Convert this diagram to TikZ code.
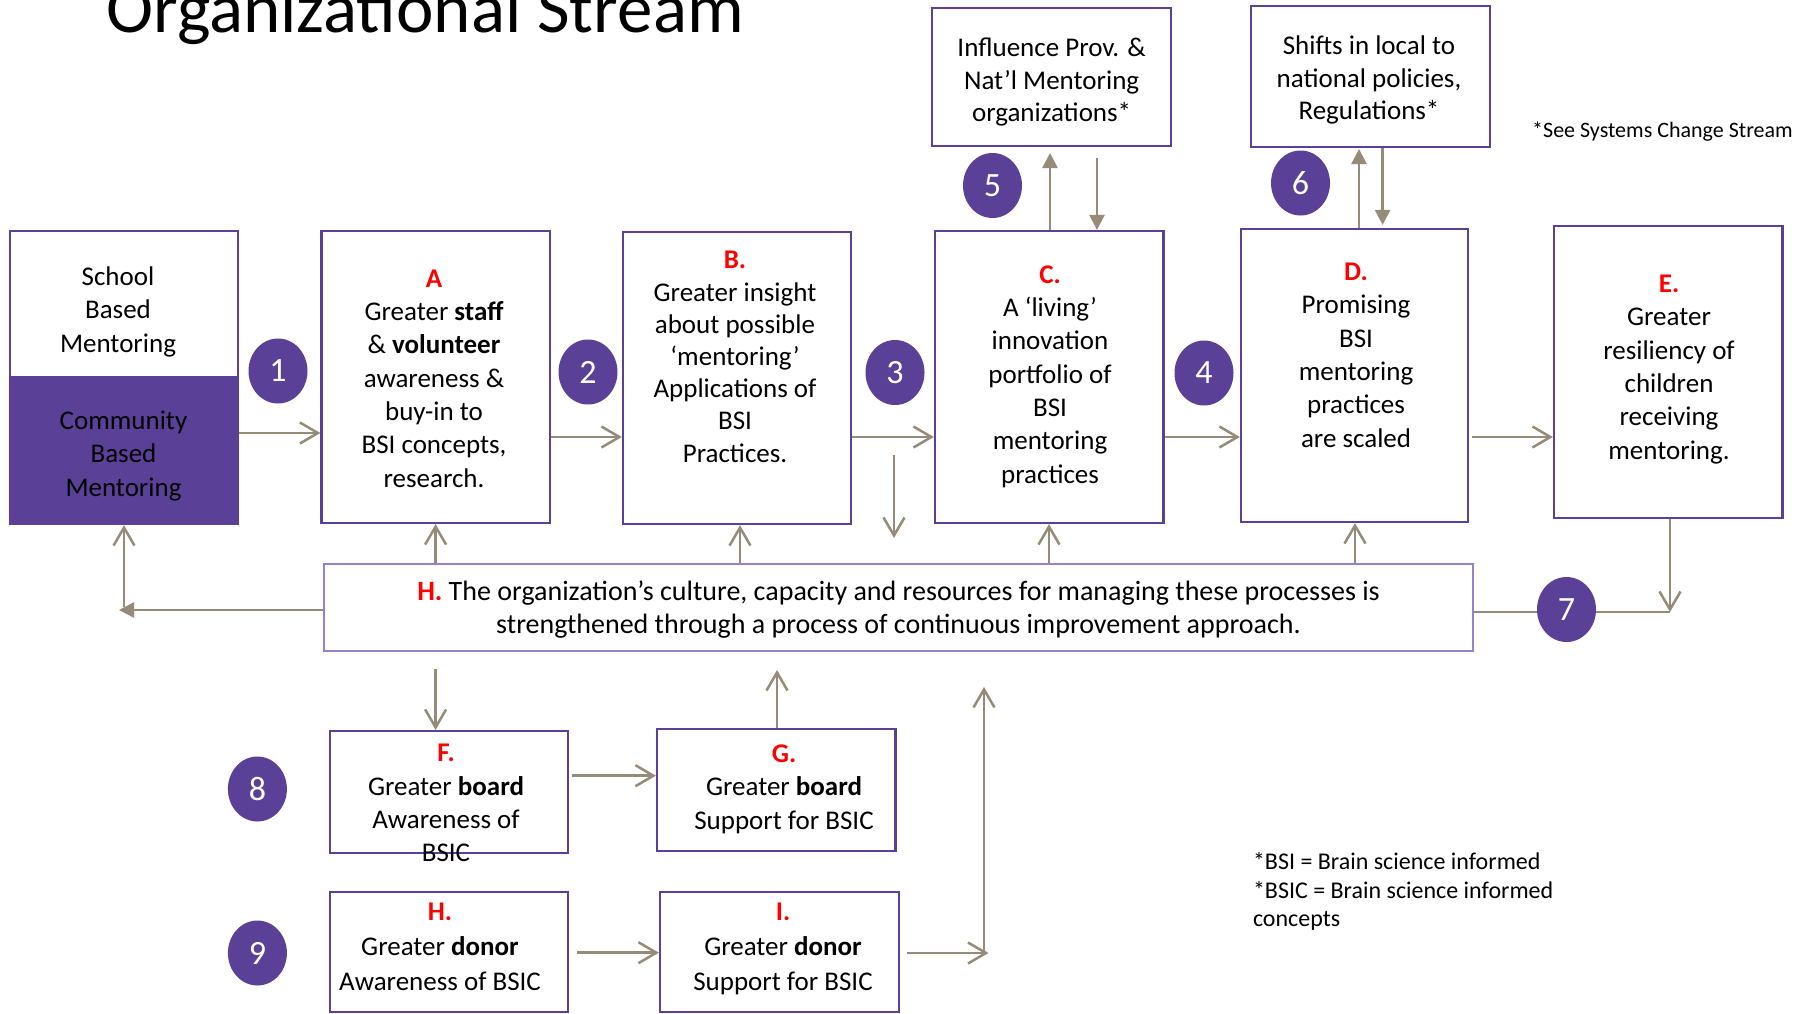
\documentclass[tikz,border=0pt]{standalone}
\usepackage{fontspec}
\setmainfont{Carlito}
\usetikzlibrary{arrows.meta,shapes.geometric}
\definecolor{mypurple}{RGB}{91,64,152}
\definecolor{arrowc}{RGB}{150,138,120}
\definecolor{lightpurple}{RGB}{150,130,200}
\definecolor{myred}{RGB}{255,0,0}
\tikzset{
  box/.style={draw=mypurple, line width=2.2pt, fill=white, inner sep=0pt},
  txt/.style={align=center, inner sep=0pt, font=\fontsize{27}{33.3}\selectfont},
  num/.style={ellipse, fill=mypurple, draw=none, minimum width=59pt, minimum height=65pt, inner sep=0pt,
     text=white, font=\fontsize{34}{40}\selectfont},
  openarr/.style={draw=arrowc, line width=2.5pt, -{Straight Barb[length=18pt,width=21pt]}},
  filarr/.style={draw=arrowc, line width=2.5pt, -{Triangle[length=15pt,width=15pt]}},
  plainline/.style={draw=arrowc, line width=2.5pt},
  foot/.style={align=left, inner sep=0pt, font=\fontsize{24}{28.5}\selectfont},
}
\newcommand{\lab}[1]{\textcolor{myred}{\textbf{#1}}}
\begin{document}
\begin{tikzpicture}[x=1pt,y=-1pt]
\useasboundingbox (0,0) rectangle (1814,1014);
\fill[white] (0,0) rectangle (1814,1014);

% title
\node[anchor=base west, inner sep=0pt, font=\fontsize{71}{80}\selectfont] (title) at (106,33) {Organizational Stream};

% boxes top row
\node[box, minimum width=228.2pt, minimum height=145.7pt] (school) at (123.9,303.85) {};
\node[box, fill=mypurple, minimum width=228.2pt, minimum height=147.3pt] (comm) at (123.9,450.35) {};
\node[box, minimum width=228.5pt, minimum height=292pt] (A) at (435.75,377) {};
\node[box, minimum width=228pt, minimum height=292pt] (B) at (737,378) {};
\node[box, minimum width=228.5pt, minimum height=292pt] (C) at (1049.25,377) {};
\node[box, minimum width=227pt, minimum height=293pt] (D) at (1354.5,375.5) {};
\node[box, minimum width=228.5pt, minimum height=292pt] (E) at (1668.25,372) {};

\node[box, minimum width=239pt, minimum height=137.4pt] (infl) at (1051.5,77) {};
\node[box, minimum width=239pt, minimum height=140.7pt] (shift) at (1370.5,76.35) {};

\node[draw=lightpurple, line width=1.4pt, fill=white, minimum width=1149pt, minimum height=87pt, inner sep=0pt] (H) at (898.5,607.5) {};

\node[box, minimum width=238pt, minimum height=122pt] (F) at (449,792) {};
\node[box, minimum width=238.4pt, minimum height=122pt] (G) at (776.2,790) {};
\node[box, minimum width=238pt, minimum height=120.3pt] (H2) at (449,951.85) {};
\node[box, minimum width=238.6pt, minimum height=120.3pt] (I) at (779.3,951.85) {};

% texts (anchor=base is the baseline of the last line)
\node[txt, anchor=base] (schooltxt) at (118,352) {School\\Based\\Mentoring};
\node[txt, anchor=base] (commtxt) at (123.5,496) {Community\\Based\\Mentoring};
\node[txt, anchor=base] (Atxt) at (434,487) {\lab{A}\\Greater \textbf{staff}\\\& \textbf{volunteer}\\awareness \&\\buy-in to\\BSI concepts,\\research.};
\node[txt, anchor=base, font=\fontsize{27}{32.2}\selectfont] (Btxt) at (735,462) {\lab{B.}\\Greater insight\\about possible\\‘mentoring’\\Applications of\\BSI\\Practices.};
\node[txt, anchor=base] (Ctxt) at (1050,483) {\lab{C.}\\A ‘living’\\innovation\\portfolio of\\BSI\\mentoring\\practices};
\node[txt, anchor=base] (Dtxt) at (1356,447) {\lab{D.}\\Promising\\BSI\\mentoring\\practices\\are scaled};
\node[txt, anchor=base] (Etxt) at (1669,459) {\lab{E.}\\Greater\\resiliency of\\children\\receiving\\mentoring.};
\node[txt, anchor=base, font=\fontsize{27}{32.7}\selectfont] (infltxt) at (1051.6,122) {Influence Prov. \&\\Nat’l Mentoring\\organizations*};
\node[txt, anchor=base, font=\fontsize{27}{32.7}\selectfont] (shifttxt) at (1369,120) {Shifts in local to\\national policies,\\Regulations*};
\node[txt, anchor=base, font=\fontsize{28}{33}\selectfont] (Htxt) at (898.5,633) {\lab{H.} The organization’s culture, capacity and resources for managing these processes is\\strengthened through a process of continuous improvement approach.};
\node[txt, anchor=base] (Ftxt) at (446,861.7) {\lab{F.}\\Greater \textbf{board}\\Awareness of\\BSIC};
\node[txt, anchor=base] (Gtxt) at (784,829) {\lab{G.}\\Greater \textbf{board}\\Support for BSIC};
\node[txt, anchor=base, font=\fontsize{27}{35}\selectfont] (H2txt) at (440,990) {\lab{H.}\\Greater \textbf{donor}\\Awareness of BSIC};
\node[txt, anchor=base, font=\fontsize{27}{35}\selectfont] (Itxt) at (783,990) {\lab{I.}\\Greater \textbf{donor}\\Support for BSIC};

\node[anchor=base west, inner sep=0pt, font=\fontsize{22}{26}\selectfont] (see) at (1532,138) {*See Systems Change Stream};
\node[foot, anchor=base west] (bsi) at (1252.8,926.7) {*BSI = Brain science informed\\*BSIC = Brain science informed\\concepts};

% numbered circles
\node[num] (n1) at (278,371) {1};
\node[num] (n2) at (588,372) {2};
\node[num] (n3) at (895,372.5) {3};
\node[num] (n4) at (1204,373) {4};
\node[num] (n5) at (992.5,185.5) {5};
\node[num] (n6) at (1300.5,183) {6};
\node[num] (n8) at (257.4,789) {8};
\node[num] (n9) at (257.4,953) {9};

% coordinates for free ends
\coordinate (dn1) at (894,455);
\coordinate (dn2) at (894,538);
\coordinate (hl) at (119,610);
\coordinate (hv) at (124,607);
\coordinate (corner) at (1670,612);
\coordinate (Fin) at (435.6,669);
\coordinate (Gout) at (777,670);
\coordinate (Iend) at (988.5,953);
\coordinate (upbot) at (984,953);
\coordinate (uptop) at (984,687);

% horizontal flow arrows
\draw[openarr] (comm.east |- 0,433) -- (A.west |- 0,433);
\draw[openarr] (A.east |- 0,437) -- (B.west |- 0,437);
\draw[openarr] (B.east |- 0,437) -- (C.west |- 0,437);
\draw[openarr] (C.east |- 0,437) -- (D.west |- 0,437);
\draw[openarr] ([xshift=3pt]D.east |- 0,437) -- (E.west |- 0,437);
\draw[openarr] (dn1) -- (dn2);

% top vertical arrows
\draw[filarr] (C.north -| 1050,0) -- (1050,153);
\draw[filarr] (1097,158) -- (C.north -| 1097,0);
\draw[filarr] (D.north -| 1359,0) -- (1359,149);
\draw[filarr] (shift.south -| 1382.6,0) -- ([yshift=3pt]D.north -| 1382.6,0);

% H connections
\draw[filarr] (H.west |- 0,610) -- (hl);
\draw[openarr] (hv) -- (comm.south -| hv);
\draw[openarr] (H.north -| 435.6,0) -- (A.south -| 435.6,0);
\draw[openarr] (H.north -| 740,0) -- (B.south -| 740,0);
\draw[openarr] (H.north -| 1049,0) -- (C.south -| 1049,0);
\draw[openarr] (H.north -| 1355,0) -- (D.south -| 1355,0);
\draw[plainline] (H.east |- corner) -- (corner);
\draw[openarr] (E.south -| corner) -- (corner);
\node[num] (n7) at (1566.5,609.5) {7};

% lower arrows
\draw[openarr] (Fin) -- (F.north -| Fin);
\draw[openarr] (G.north -| Gout) -- (Gout);
\draw[openarr] ([xshift=3pt]F.east |- 0,775.7) -- (G.west |- 0,775.7);
\draw[openarr] ([xshift=8pt]H2.east |- 0,952.7) -- (I.west |- 0,952.7);
\draw[openarr] ([xshift=7pt]I.east |- Iend) -- (Iend);
\draw[openarr] (upbot) -- (uptop);
\end{tikzpicture}
\end{document}
